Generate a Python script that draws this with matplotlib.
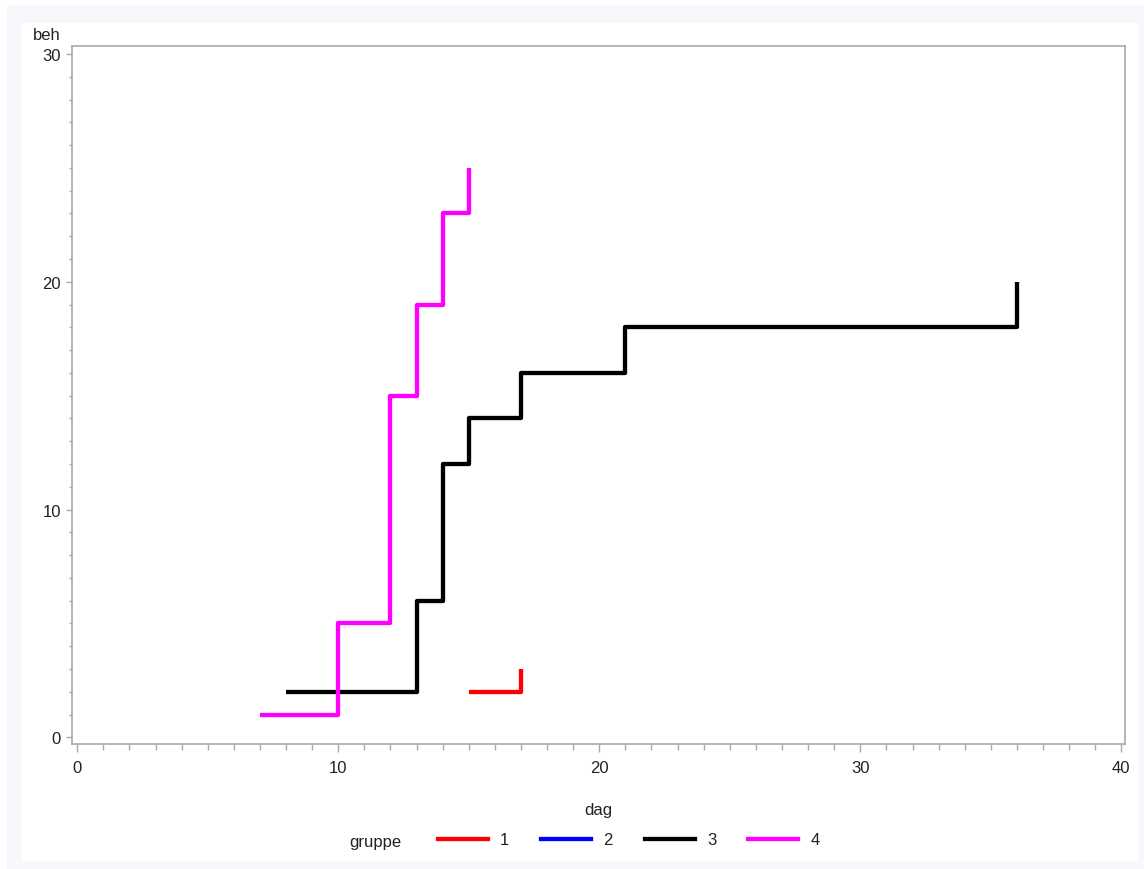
import matplotlib
matplotlib.use("Agg")
from matplotlib import pyplot as plt
from matplotlib.patches import Rectangle
from matplotlib.lines import Line2D
from matplotlib.ticker import MultipleLocator

plt.rcParams['font.family'] = ['Liberation Sans', 'DejaVu Sans']

# data (step curves per gruppe)
dag_1 = [15, 17]
beh_1 = [2, 3]
dag_2 = []
beh_2 = []
dag_3 = [8, 13, 14, 15, 17, 21, 36]
beh_3 = [2, 6, 12, 14, 16, 18, 20]
dag_4 = [7, 10, 12, 13, 14, 15]
beh_4 = [1, 5, 15, 19, 23, 25]

groups = ['1', '2', '3', '4']
colors = ['#ff0000', '#0000ff', '#000000', '#ff00ff']
series = [(dag_1, beh_1), (dag_2, beh_2), (dag_3, beh_3), (dag_4, beh_4)]

W, H = 1144, 870
fs = 12
txt_col = '#222222'
fig = plt.figure(figsize=(W / 100, H / 100), dpi=100, facecolor='white')

# SAS-like background panels
fig.patches.append(Rectangle((7 / W, 0), (W - 7) / W, (H - 6) / H, transform=fig.transFigure,
                             facecolor='#f6f8fc', edgecolor='none', zorder=-10))
fig.patches.append(Rectangle((22 / W, (H - 862) / H), (1138 - 22) / W, (862 - 24) / H,
                             transform=fig.transFigure, facecolor='white', edgecolor='none', zorder=-9))

ax = fig.add_axes([72 / W, 1 - 745 / H, (1125 - 72) / W, (745 - 47) / H])
ax.set_facecolor('none')

for (x, y), c in zip(series, colors):
    if len(x):
        ax.plot(x, y, drawstyle='steps-post', color=c, lw=3.1, solid_capstyle='butt')

ax.set_xlim(-0.2, 40.14)
ax.set_ylim(-0.29, 30.35)
ax.xaxis.set_major_locator(MultipleLocator(10))
ax.xaxis.set_minor_locator(MultipleLocator(1))
ax.yaxis.set_major_locator(MultipleLocator(10))
ax.yaxis.set_minor_locator(MultipleLocator(1))

spine_col = '#a6aaae'
for s in ax.spines.values():
    s.set_color(spine_col)
    s.set_linewidth(1.2)
ax.tick_params(axis='both', which='both', direction='out', color=spine_col, labelsize=fs,
               labelcolor=txt_col)
ax.tick_params(axis='x', which='major', length=5.5, width=1, pad=6)
ax.tick_params(axis='x', which='minor', length=4, width=1)
ax.tick_params(axis='y', which='major', length=4, width=1, pad=4)
ax.tick_params(axis='y', which='minor', length=2.5, width=1)

fig.text(598 / W, 1 - 811 / H, 'dag', ha='center', va='center', fontsize=fs, color=txt_col)
fig.text(61 / W, 1 - 35 / H, 'beh', ha='right', va='center', fontsize=fs, color=txt_col)

# legend
fig.text(349 / W, 1 - 843 / H, 'gruppe', ha='left', va='center', fontsize=fs, color=txt_col)
handles = [Line2D([], [], color=c, lw=3.1) for c in colors]
fig.legend(handles, groups, loc='center left', bbox_to_anchor=(438 / W, 1 - 841 / H),
           ncol=4, frameon=False, fontsize=fs, handlelength=3.0, handletextpad=0.72,
           columnspacing=1.93, borderpad=0, borderaxespad=0, labelcolor=txt_col)

fig.savefig('out.png', dpi=100, facecolor='white')
